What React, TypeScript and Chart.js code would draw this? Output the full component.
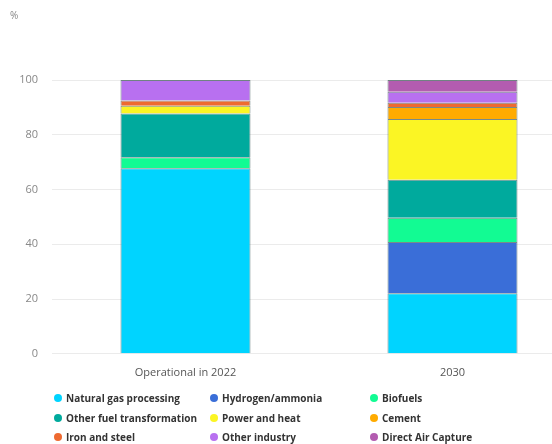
import React, { useEffect, useRef } from "react";
import { Chart, registerables } from "chart.js";

Chart.register(...registerables);

const categories = ["Operational in 2022", "2030"];
const seriesNames = [
  "Natural gas processing",
  "Hydrogen/ammonia",
  "Biofuels",
  "Other fuel transformation",
  "Power and heat",
  "Cement",
  "Iron and steel",
  "Other industry",
  "Direct Air Capture",
];
const naturalGas = [67.8, 22.1];
const hydrogen = [0, 18.7];
const biofuels = [4.0, 8.9];
const otherFuel = [16.0, 13.9];
const powerHeat = [2.8, 22.2];
const cement = [0, 4.3];
const ironSteel = [1.9, 1.6];
const otherIndustry = [7.5, 4.0];
const dac = [0, 4.3];
const seriesValues = [naturalGas, hydrogen, biofuels, otherFuel, powerHeat, cement, ironSteel, otherIndustry, dac];
const seriesColors = [
  "#00d4ff",
  "#3a6ed8",
  "#12fb93",
  "#00aa9d",
  "#fbf524",
  "#ffab00",
  "#ee6a30",
  "#b870f0",
  "#b35cb0",
];
const yTicks = [0, 20, 40, 60, 80, 100];

const FONT = "'Open Sans', 'Noto Sans', sans-serif";

export default function App() {
  const ref = useRef<HTMLCanvasElement | null>(null);
  useEffect(() => {
    if (!ref.current) return;
    const chart = new Chart(ref.current, {
      type: "bar",
      data: {
        labels: categories,
        datasets: seriesNames.map((name, i) => ({
          label: name,
          data: seriesValues[i],
          backgroundColor: seriesColors[i],
          borderColor: "rgba(30,60,60,0.6)",
          borderWidth: 1,
          categoryPercentage: 1,
          barPercentage: 0.487,
        })),
      },
      options: {
        responsive: false,
        animation: false,
        layout: { padding: { top: 80, left: 0, right: 4, bottom: 53 } },
        plugins: { legend: { display: false }, tooltip: { enabled: false } },
        scales: {
          x: {
            stacked: true,
            grid: { display: false, drawTicks: false },
            border: { display: false },
            ticks: { color: "#555", font: { family: FONT, size: 11 }, padding: 12 },
          },
          y: {
            stacked: true,
            min: 0,
            max: 100,
            afterFit: (s: any) => {
              s.width = 52;
            },
            afterBuildTicks: (s: any) => {
              s.ticks = yTicks.map((v) => ({ value: v }));
            },
            grid: { color: "#ebebeb", drawTicks: false, lineWidth: 1 },
            border: { display: false },
            ticks: { color: "#888", font: { family: FONT, size: 11 }, padding: 14 },
          },
        },
      },
    });
    return () => chart.destroy();
  }, []);

  const cols = [0, 1, 2];
  const colLeft = [54, 210, 370];
  const rows = [0, 1, 2];
  return (
    <div
      style={{
        position: "absolute",
        left: 0,
        top: 0,
        width: 552,
        height: 444,
        overflow: "hidden",
        background: "#fff",
        fontFamily: FONT,
      }}
    >
      <canvas ref={ref} width={590} height={444} style={{ position: "absolute", left: 0, top: 0, width: 590, height: 444 }} />
      <div style={{ position: "absolute", left: 10, top: 8, fontSize: 10, color: "#888" }}>%</div>
      {rows.map((r) =>
        cols.map((c) => {
          const i = r * 3 + c;
          return (
            <div
              key={i}
              style={{
                position: "absolute",
                left: colLeft[c],
                top: 391 + r * 19.5,
                display: "flex",
                alignItems: "center",
                fontSize: 10,
                fontWeight: 700,
                color: "#333",
                whiteSpace: "nowrap",
              }}
            >
              <span
                style={{
                  display: "inline-block",
                  width: 8,
                  height: 8,
                  borderRadius: "50%",
                  background: seriesColors[i],
                  marginRight: 4,
                }}
              />
              {seriesNames[i]}
            </div>
          );
        })
      )}
    </div>
  );
}
